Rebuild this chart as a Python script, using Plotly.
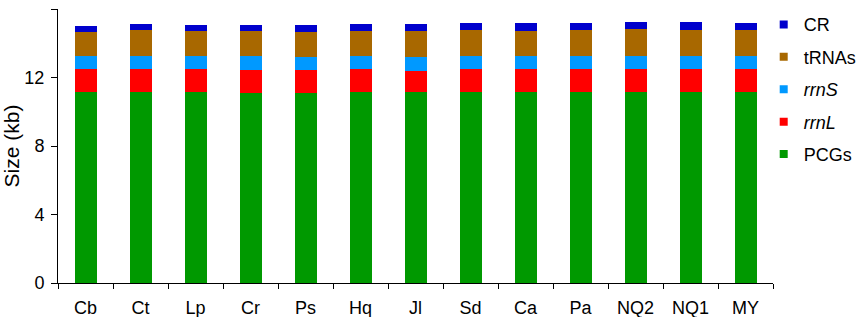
import plotly.graph_objects as go

categories = ["Cb", "Ct", "Lp", "Cr", "Ps", "Hq", "Jl", "Sd", "Ca", "Pa", "NQ2", "NQ1", "MY"]
pcgs  = [11.17, 11.17, 11.13, 11.11, 11.11, 11.15, 11.13, 11.15, 11.15, 11.17, 11.17, 11.17, 11.17]
rrnl  = [1.31, 1.31, 1.35, 1.35, 1.35, 1.33, 1.27, 1.35, 1.33, 1.33, 1.33, 1.33, 1.33]
rrns  = [0.78, 0.79, 0.78, 0.78, 0.74, 0.78, 0.78, 0.77, 0.78, 0.77, 0.77, 0.77, 0.77]
trnas = [1.42, 1.49, 1.44, 1.46, 1.46, 1.46, 1.54, 1.52, 1.46, 1.52, 1.54, 1.52, 1.52]
cr    = [0.32, 0.36, 0.38, 0.38, 0.39, 0.40, 0.38, 0.39, 0.46, 0.39, 0.41, 0.47, 0.41]
y_ticks = [0, 4, 8, 12, 16]

series = [
    ("PCGs", pcgs, "#009900"),
    ("<i>rrnL</i>", rrnl, "#FF0000"),
    ("<i>rrnS</i>", rrns, "#0099FF"),
    ("tRNAs", trnas, "#A86800"),
    ("CR", cr, "#0000CC"),
]

fig = go.Figure()
for name, vals, col in series:
    fig.add_trace(go.Bar(x=categories, y=vals, name=name, marker=dict(color=col, line=dict(width=0)),
                         width=0.4, showlegend=False))
# legend proxies with small square markers (top of stack listed first)
for i, (name, vals, col) in enumerate(reversed(series)):
    fig.add_trace(go.Scatter(x=[None], y=[None], mode="markers", name=name,
                             marker=dict(symbol="square", size=8, color=col),
                             legendgroup=f"g{i}", showlegend=True))

font = "Liberation Sans, Arial, sans-serif"
fig.update_layout(
    barmode="stack",
    width=858, height=317,
    margin=dict(l=58, r=85, t=9, b=34, autoexpand=False),
    paper_bgcolor="white", plot_bgcolor="white",
    font=dict(family=font, size=18, color="black"),
    showlegend=True,
    legend=dict(traceorder="grouped", x=0.987, y=1.01, xanchor="left", yanchor="top",
                font=dict(size=18), tracegroupgap=6, itemwidth=30, bgcolor="rgba(0,0,0,0)"),
    xaxis=dict(showline=True, linecolor="black", linewidth=1, ticks="outside", tickson="boundaries",
               ticklen=5, tickcolor="black", showgrid=False, tickfont=dict(size=18), automargin=False,
               ticklabelstandoff=8),
    yaxis=dict(range=[0, 16], tickvals=y_ticks, showline=True, linecolor="black", linewidth=1,
               ticks="outside", ticklen=6, tickcolor="black", showgrid=False, zeroline=False,
               title=dict(text="Size (kb)", font=dict(size=21), standoff=4), tickfont=dict(size=18),
               automargin=False, ticklabelstandoff=3),
)
fig.write_html("out.html", config={"displayModeBar": False},
               post_script="document.body.style.margin='0px';")
